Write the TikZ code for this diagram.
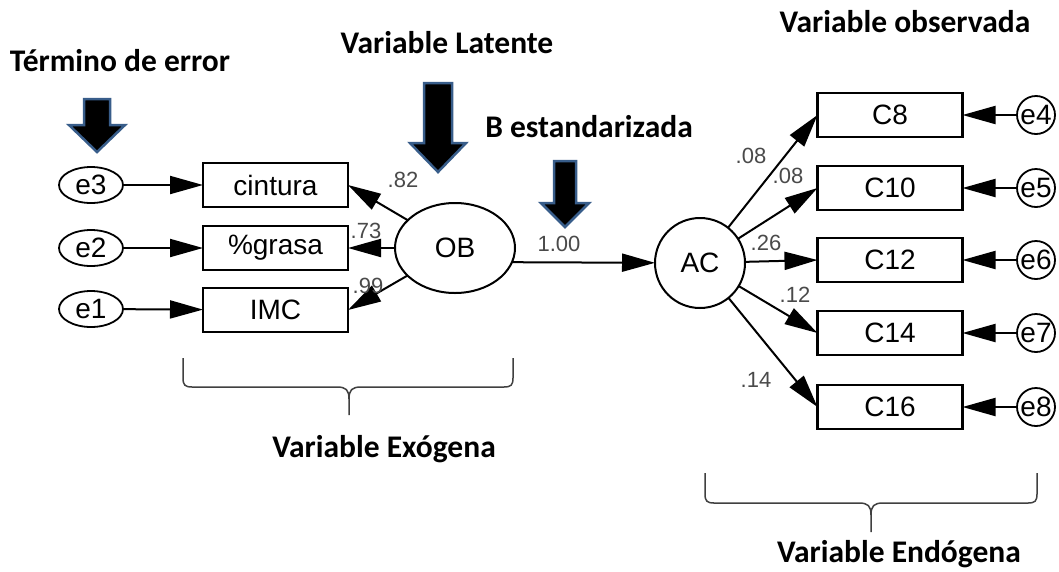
\documentclass[tikz,border=0pt]{standalone}
\usepackage{fontspec}
\setmainfont{Liberation Sans}
\newfontfamily\headfont{Carlito}
\usetikzlibrary{arrows.meta,shapes.geometric}
\definecolor{arrowedge}{HTML}{385D8A}
\definecolor{coefgray}{HTML}{4A4A4A}

\tikzset{
  every node/.style={inner sep=0pt, outer sep=0pt},
  obs/.style={draw, line width=2.2pt, minimum width=145pt, minimum height=44pt,
    font=\fontsize{28}{30}\selectfont},
  errl/.style={draw, ellipse, line width=1.8pt, minimum width=64pt, minimum height=36pt,
    font=\fontsize{28}{30}\selectfont},
  errr/.style={draw, circle, line width=1.8pt, minimum size=38pt,
    font=\fontsize{28}{30}\selectfont},
  lat/.style={draw, ellipse, line width=2pt, font=\fontsize{28}{30}\selectfont},
  conn/.style={line width=2pt, -{Triangle[length=33pt,width=18pt]}},
  coef/.style={text=coefgray, font=\fontsize{22}{24}\selectfont},
  heading/.style={anchor=base, font=\headfont\bfseries\fontsize{31.5}{34}\selectfont},
  bracket/.style={draw=black!75, line width=1.5pt},
  fatarrow/.style={fill=black, draw=arrowedge, line width=2.5pt, line join=miter}
}

% thick downward pointer: centre x, top, neck, tip, shaft half width, head half width
\newcommand\dropArrow[6]{%
  \draw[fatarrow] ({#1-#5},#2) -- ({#1+#5},#2) -- ({#1+#5},#3) -- ({#1+#6},#3)
    -- (#1,#4) -- ({#1-#6},#3) -- ({#1-#5},#3) -- cycle;}

% curly bracket: left x, right x, top of the ends, level of the bar, middle x, stem bottom
\newcommand\underBracket[6]{%
  \draw[bracket] (#1,#3) -- (#1,{#4-9}) .. controls (#1,{#4-2}) and ({#1+2},#4) .. ({#1+9},#4)
    -- ({#5-12},#4) .. controls ({#5-3},#4) and (#5,{#4+3}) .. (#5,{#4+12}) -- (#5,#6);
  \draw[bracket] (#2,#3) -- (#2,{#4-9}) .. controls (#2,{#4-2}) and ({#2-2},#4) .. ({#2-9},#4)
    -- ({#5+12},#4) .. controls ({#5+3},#4) and (#5,{#4+3}) .. (#5,{#4+12});}

\begin{document}
\begin{tikzpicture}[x=1pt, y=-1pt]
  \fill[white] (0,0) rectangle (1059,571);
  \useasboundingbox (0,0) rectangle (1059,571);

  % headings
  \node[heading] (hErr) at (120,71) {Término de error};
  \node[heading] (hLat) at (447,53) {Variable Latente};
  \node[heading] (hB) at (589,137) {B estandarizada};
  \node[heading] (hObs) at (905,32) {Variable observada};
  \node[heading] (hExo) at (384,457) {Variable Exógena};
  \node[heading] (hEndo) at (899,562) {Variable Endógena};

  % pointers
  \dropArrow{97}{99}{125}{152}{13}{28}
  \dropArrow{438}{83}{143}{172}{14}{28}
  \dropArrow{565}{161}{203}{227}{11}{24}

  % exogenous side
  \node[obs] (cint) at (275.5,185) {cintura};
  \node[obs] (grasa) at (275.5,248) {\%grasa};
  \node[obs] (imc) at (275.5,310) {IMC};
  \node[errl] (e3) at (91,185) {e3};
  \node[errl] (e2) at (91,248) {e2};
  \node[errl] (e1) at (91,309) {e1};
  \node[lat, minimum width=120pt, minimum height=90pt] (OB) at (455,248) {OB};

  % endogenous side
  \node[lat, circle, minimum size=90pt] (AC) at (700,263) {AC};
  \node[obs] (c8) at (890,115) {C8};
  \node[obs] (c10) at (890,188) {C10};
  \node[obs] (c12) at (890,260) {C12};
  \node[obs] (c14) at (890,333) {C14};
  \node[obs] (c16) at (890,407) {C16};
  \node[errr] (e4) at (1036,115) {e4};
  \node[errr] (e5) at (1036,188) {e5};
  \node[errr] (e6) at (1036,260) {e6};
  \node[errr] (e7) at (1036,333) {e7};
  \node[errr] (e8) at (1036,407) {e8};

  % error terms
  \draw[conn] (e3) -- (cint);
  \draw[conn] (e2) -- (grasa);
  \draw[conn] (e1) -- (imc);
  \draw[conn] (e4) -- (c8);
  \draw[conn] (e5) -- (c10);
  \draw[conn] (e6) -- (c12);
  \draw[conn] (e7) -- (c14);
  \draw[conn] (e8) -- (c16);

  % loadings and structural path
  \draw[conn] (OB) -- (cint.east);
  \draw[conn] (OB) -- (grasa.east);
  \draw[conn] (OB) -- (imc.east);
  \draw[conn] (OB.-14.8) -- (AC);
  \draw[conn] (AC) -- (c8.west);
  \draw[conn] (AC) -- (c10.west);
  \draw[conn] (AC) -- (c12.west);
  \draw[conn] (AC) -- (c14.west);
  \draw[conn] (AC) -- (c16.west);

  % standardized coefficients
  \node[coef] (k82) at (403,180) {.82};
  \node[coef] (k73) at (366,231) {.73};
  \node[coef] (k99) at (368,286) {.99};
  \node[coef] (k100) at (559,244) {1.00};
  \node[coef] (k08a) at (751,156) {.08};
  \node[coef] (k08b) at (788,176) {.08};
  \node[coef] (k26) at (766,243) {.26};
  \node[coef] (k12) at (795,295) {.12};
  \node[coef] (k14) at (756,380) {.14};

  % group brackets
  \underBracket{183}{513}{358}{387}{349}{415}
  \underBracket{705}{1037}{473}{503}{871}{532}
\end{tikzpicture}
\end{document}
